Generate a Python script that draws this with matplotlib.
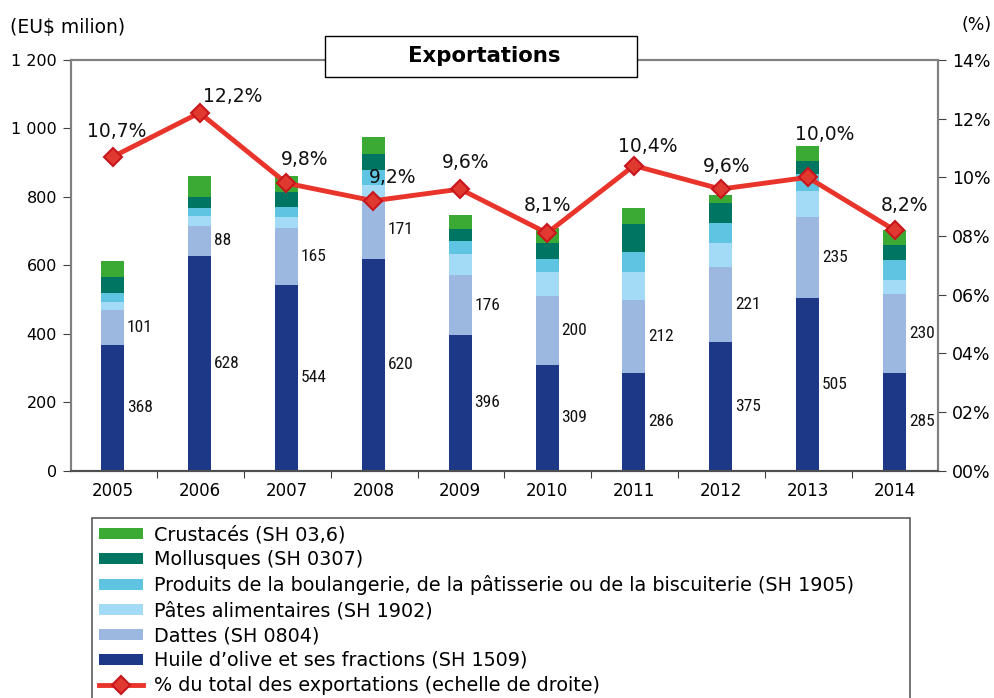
import numpy as np
import matplotlib
matplotlib.use("Agg")
import matplotlib.pyplot as plt
from matplotlib.patches import Patch, Rectangle
from matplotlib.lines import Line2D
from matplotlib.ticker import FuncFormatter, FixedLocator

plt.rcParams['font.family'] = ['DejaVu Sans']

years = ['2005', '2006', '2007', '2008', '2009', '2010', '2011', '2012', '2013', '2014']
huile = [368, 628, 544, 620, 396, 309, 286, 375, 505, 285]
dattes = [101, 88, 165, 171, 176, 200, 212, 221, 235, 230]
pates = [23, 29, 32, 44, 61, 73, 82, 70, 76, 41]
produits = [26, 23, 29, 44, 38, 38, 58, 58, 50, 61]
mollusques = [47, 32, 44, 47, 35, 44, 82, 58, 38, 41]
crustaces = [47, 61, 47, 50, 41, 44, 47, 23, 44, 44]
share = [10.7, 12.2, 9.8, 9.2, 9.6, 8.1, 10.4, 9.6, 10.0, 8.2]
share_labels = ['10,7%', '12,2%', '9,8%', '9,2%', '9,6%', '8,1%', '10,4%', '9,6%', '10,0%', '8,2%']

series = [
    ("Huile d\u2019olive et ses fractions (SH 1509)", huile, '#1d3886'),
    ("Dattes (SH 0804)", dattes, '#9db8e0'),
    ("P\u00e2tes alimentaires (SH 1902)", pates, '#a3dbf7'),
    ("Produits de la boulangerie, de la p\u00e2tisserie ou de la biscuiterie (SH 1905)", produits, '#5fc4e2'),
    ("Mollusques (SH 0307)", mollusques, '#007662'),
    ("Crustac\u00e9s (SH 03,6)", crustaces, '#3aaa35'),
]
line_label = "% du total des exportations (echelle de droite)"
red = '#e8342b'

# label offsets (points) for the % annotations
pct_offsets = [(3, 18), (24, 12), (13, 17), (14, 17), (4, 19), (0, 20), (10, 14), (4, 16), (12, 31), (7, 18)]

fig = plt.figure(figsize=(9.94, 6.98), dpi=100)
ax = fig.add_axes([71/994, 1-470.7/698, (938-71)/994, 410.7/698])
ax2 = ax.twinx()

x = np.arange(len(years))
w = 0.265
bottom = np.zeros(len(years))
for name, vals, col in series:
    vals = np.array(vals, dtype=float)
    ax.bar(x, vals, w, bottom=bottom, color=col, zorder=2)
    bottom = bottom + vals

# value labels for huile and dattes
for i in range(len(years)):
    for y0, v in [(0, huile[i]), (huile[i], dattes[i])]:
        ax.annotate(str(v), (x[i] + w/2, y0 + v/2), xytext=(2, 0), textcoords='offset points',
                    ha='left', va='center', fontsize=12.5, family='Roboto Condensed',
                    color='#111111')

ax.set_xlim(-0.48, 9.5)
ax.set_ylim(0, 1200)
ax.set_yticks(np.arange(0, 1201, 200))
ax.yaxis.set_major_formatter(FuncFormatter(lambda v, p: f"{int(v):,}".replace(",", " ")))
ax.xaxis.set_major_locator(FixedLocator(np.arange(-0.5, 10, 1) + 0.01))
ax.xaxis.set_major_formatter(FuncFormatter(lambda v, p: ""))
ax.set_xticks(x, minor=True)
ax.set_xticklabels(years, minor=True)
ax.tick_params(axis='x', which='minor', length=0, pad=8, labelsize=12)
ax.tick_params(axis='x', which='major', length=5, direction='out', color='#404040')
ax.tick_params(axis='y', length=6, direction='out', labelsize=11.5, color='#404040', pad=4)

ax2.plot(x, share, color=red, lw=3.5, marker='D', markersize=9,
         markerfacecolor='#e03a30', markeredgecolor='#c8161d', markeredgewidth=1.5, zorder=5)
for i, (v, lab) in enumerate(zip(share, share_labels)):
    ax2.annotate(lab, (x[i], v), xytext=pct_offsets[i], textcoords='offset points',
                 ha='center', va='center', fontsize=13.5, color='#111111')
ax2.set_ylim(0, 14)
ax2.set_yticks(np.arange(0, 15, 2))
ax2.yaxis.set_major_formatter(FuncFormatter(lambda v, p: f"{int(v):02d}%"))
ax2.tick_params(axis='y', length=6, direction='out', labelsize=12.5, color='#404040', pad=4)

for a in (ax, ax2):
    for s in ['left', 'right', 'top']:
        a.spines[s].set_color('#808080')
        a.spines[s].set_linewidth(1.5)
    a.spines['bottom'].set_color('#505050')
    a.spines['bottom'].set_linewidth(1.5)

fig.text(10/994, 1-27/698, "(EU$ milion)", fontsize=13.5, ha='left', va='center')
fig.text(992/994, 1-25/698, "(%)", fontsize=12.5, ha='right', va='center')

fig.add_artist(Rectangle((325/994, 1-77/698), 312/994, 41/698, transform=fig.transFigure,
                         facecolor='white', edgecolor='black', lw=1, zorder=10))
fig.text(484/994, 1-56.5/698, "Exportations", fontsize=15.3, fontweight='bold',
         ha='center', va='center', zorder=11)

handles = []
labels = []
for name, vals, col in series[::-1]:
    handles.append(Patch(facecolor=col, edgecolor='none'))
    labels.append(name)
handles.append(Line2D([], [], color=red, lw=3.5, marker='D', markersize=9,
                      markerfacecolor='#e03a30', markeredgecolor='#c8161d', markeredgewidth=1.5))
labels.append(line_label)

leg = fig.legend(handles, labels, loc='upper left',
                 bbox_to_anchor=(92/994, 1-518/698, 818/994, 0), mode='expand',
                 borderaxespad=0, fancybox=False, frameon=True, edgecolor='#333333',
                 fontsize=13.8, handlelength=2.3, handleheight=0.5, handletextpad=0.55,
                 labelspacing=0.31, borderpad=0.38)
leg.get_frame().set_linewidth(1.2)

fig.savefig("out.png", dpi=100)
